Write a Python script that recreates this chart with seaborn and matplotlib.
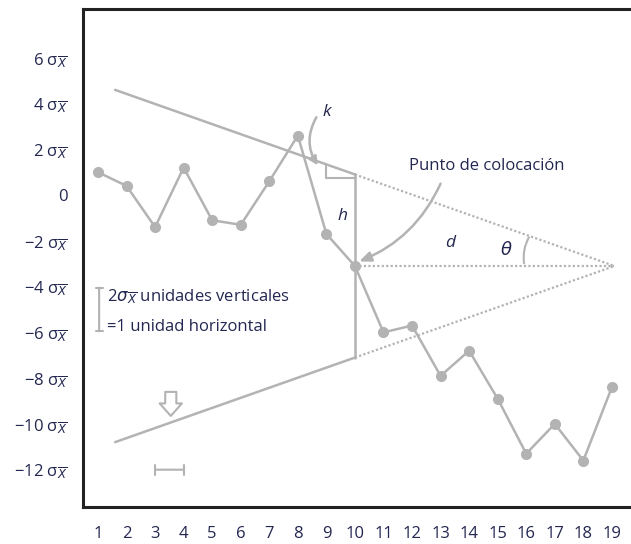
import numpy as np
import pandas as pd
import seaborn as sns
import matplotlib.pyplot as plt

# =========================
# DATA
# =========================
periods = list(range(1, 20))
values = [1.0, 0.4, -1.4, 1.2, -1.1, -1.3, 0.6, 2.6, -1.7, -3.1,
          -6.0, -5.7, -7.9, -6.8, -8.9, -11.3, -10.0, -11.6, -8.4]

SIG = r"σ$_{\overline{X}}$"
y_ticks = [6, 4, 2, 0, -2, -4, -6, -8, -10, -12]
y_labels = ["6 " + SIG, "4 " + SIG, "2 " + SIG, "0", "\u22122 " + SIG, "\u22124 " + SIG,
            "\u22126 " + SIG, "\u22128 " + SIG, "\u221210 " + SIG, "\u221212 " + SIG]

# V-mask parameters
placement = 10
h_val = 4.0
k_val = 0.44
arm_start = 1.6

GREY = "#b3b3b3"
TXT = "#232750"

# =========================
# PLOT
# =========================
sns.set_style("white")
plt.rcParams["font.family"] = ["Open Sans", "DejaVu Sans"]
plt.rcParams["mathtext.fontset"] = "dejavusans"

fig = plt.figure(figsize=(6.31, 5.44), dpi=100)
ax = fig.add_axes([83 / 631, 1 - 507 / 544, 1 - 83 / 631, (507 - 9) / 544])

df = pd.DataFrame({"period": periods, "value": values})
sns.lineplot(data=df, x="period", y="value", ax=ax, color=GREY, lw=1.8,
             marker="o", markersize=8, markeredgewidth=0, zorder=3)

y_pt = values[placement - 1]
vertex = placement + h_val / k_val
up_end = y_pt + h_val
lo_end = y_pt - h_val
up_start = up_end + k_val * (placement - arm_start)
lo_start = lo_end - k_val * (placement - arm_start)

# solid arms and vertical line
ax.plot([arm_start, placement], [up_start, up_end], color=GREY, lw=1.8)
ax.plot([arm_start, placement], [lo_start, lo_end], color=GREY, lw=1.8)
ax.plot([placement, placement], [up_end, lo_end], color=GREY, lw=1.8)

# dotted lines to vertex
dot = dict(color=GREY, lw=1.6, ls=(0, (1, 1)))
ax.plot([placement, vertex], [up_end, y_pt], **dot)
ax.plot([placement, vertex], [lo_end, y_pt], **dot)
ax.plot([placement, vertex], [y_pt, y_pt], **dot)

# slope triangle (k)
ax.plot([placement - 1, placement - 1, placement],
        [up_end + k_val, up_end - 0.15, up_end - 0.15], color=GREY, lw=1.5)

# theta arc
ax.annotate("", xy=(vertex - 3.15, y_pt), xytext=(vertex - 2.95, y_pt + 1.35),
            arrowprops=dict(arrowstyle="-", color=GREY, lw=1.5,
                            connectionstyle="arc3,rad=0.2"))

# arrows
ax.annotate("", xy=(8.7, 1.3), xytext=(8.65, 3.4),
            arrowprops=dict(arrowstyle="-|>,head_width=0.25,head_length=0.5", color=GREY, lw=1.8,
                            connectionstyle="arc3,rad=0.3", shrinkA=0, shrinkB=0))
ax.annotate("", xy=(placement + 0.15, y_pt + 0.2), xytext=(13.0, 0.5),
            arrowprops=dict(arrowstyle="-|>,head_width=0.3,head_length=0.7", color=GREY, lw=1.8,
                            connectionstyle="arc3,rad=-0.2", shrinkA=0, shrinkB=0))

# open down arrow
ax.annotate("", xy=(3.55, -9.65), xytext=(3.55, -8.6),
            arrowprops=dict(arrowstyle="simple,head_width=1.6,head_length=0.9,tail_width=0.8",
                            fc="white", ec=GREY, lw=1.5, shrinkA=0, shrinkB=0))

# scale brackets
ax.annotate("", xy=(3, -12), xytext=(4, -12),
            arrowprops=dict(arrowstyle="|-|,widthA=0.35,widthB=0.35", color=GREY, lw=1.5,
                            shrinkA=0, shrinkB=0))
ax.annotate("", xy=(1.04, -4.05), xytext=(1.04, -5.95),
            arrowprops=dict(arrowstyle="|-|,widthA=0.25,widthB=0.25", color=GREY, lw=1.5,
                            shrinkA=0, shrinkB=0))

# labels
ax.text(1.33, -4.45, r"2$\sigma_{\overline{X}}$ unidades verticales", color=TXT, fontsize=12,
        va="center", ha="left")
ax.text(1.33, -5.75, "=1 unidad horizontal", color=TXT, fontsize=12, va="center", ha="left")
ax.text(14.6, 1.25, "Punto de colocación", color=TXT, fontsize=12, va="center", ha="center")
ax.text(9.0, 3.65, "k", color=TXT, fontsize=12.5, style="italic", va="center", ha="center")
ax.text(9.55, -0.92, "h", color=TXT, fontsize=12.5, style="italic", va="center", ha="center")
ax.text(13.33, -2.1, "d", color=TXT, fontsize=12.5, style="italic", va="center", ha="center")
ax.text(15.32, -2.4, r"$\theta$", color=TXT, fontsize=13, va="center", ha="center")

# axes
ax.set_xlim(0.475, 19.67)
ax.set_ylim(-13.63, 8.13)
ax.set_xticks(periods)
ax.set_yticks(y_ticks)
ax.set_yticklabels(y_labels)
ax.set_xlabel("")
ax.set_ylabel("")
ax.spines["right"].set_visible(False)
for s in ["left", "top", "bottom"]:
    ax.spines[s].set_linewidth(2.2)
    ax.spines[s].set_color("#222222")
ax.tick_params(axis="x", direction="in", length=9, width=1.6, color="#222222",
               pad=14, labelsize=12, labelcolor=TXT)
ax.tick_params(axis="y", direction="in", length=7, width=1.6, color="#222222",
               pad=11, labelsize=12, labelcolor=TXT)

plt.savefig("out.png", dpi=100)
